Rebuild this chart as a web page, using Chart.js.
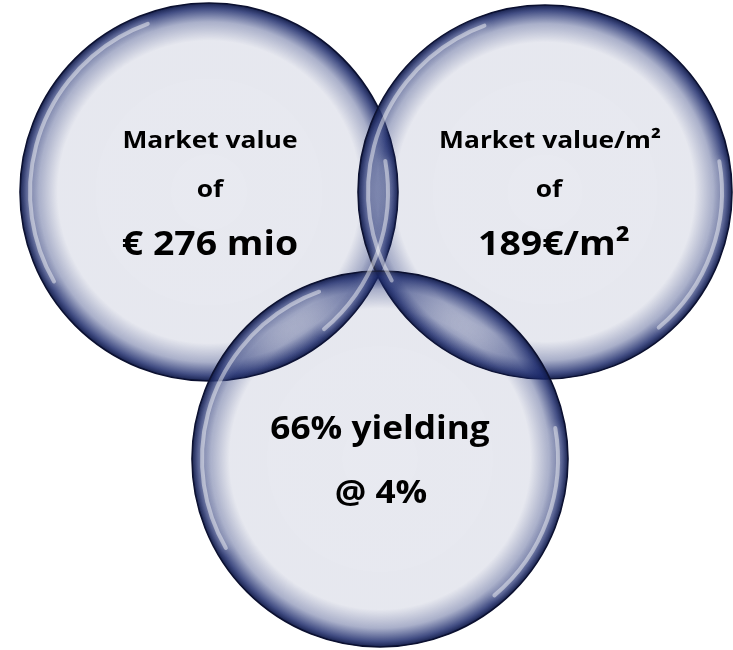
<!DOCTYPE html>
<html>
<head>
<meta charset="utf-8">
<script src="https://cdn.jsdelivr.net/npm/chart.js@4.4.0/dist/chart.umd.min.js"></script>
<style>
  html, body { margin: 0; padding: 0; background: #fff; }
  #wrap { width: 733px; height: 650px; }
</style>
</head>
<body>
<div id="wrap"><canvas id="venn"></canvas></div>
<script>
// circles (data units = px of the 733x650 frame)
const circleNames = ['Market value', 'Market value/m²', 'Yield'];
const centerX = [209, 545, 380];
const centerY = [192, 192, 459];
const radius = [189, 187, 188];

// text inside each circle
const textLines = [
    ['Market value', 'of', '€ 276 mio'],
    ['Market value/m²', 'of', '189€/m²'],
    ['66% yielding', '@ 4%']
];

const points = centerX.map((x, i) => ({ x: x, y: centerY[i], r: radius[i], name: circleNames[i] }));

function pxRadius(context) {
    const xs = context.chart.scales.x;
    const p = context.raw;
    if (!xs || !p) return 0;
    return Math.abs(xs.getPixelForValue(p.x + p.r) - xs.getPixelForValue(p.x));
}

function bubbleFill(context) {
    const chart = context.chart;
    const p = context.raw;
    const xs = chart.scales.x, ys = chart.scales.y;
    if (!p || !xs || !ys) return 'rgba(30,44,110,0.1)';
    const x = xs.getPixelForValue(p.x);
    const y = ys.getPixelForValue(p.y);
    const r = pxRadius(context);
    if (!isFinite(x) || !isFinite(y) || !r) return 'rgba(30,44,110,0.1)';
    const g = chart.ctx.createRadialGradient(x, y, 0, x, y, r);
    g.addColorStop(0, 'rgba(30,44,110,0.1)');
    g.addColorStop(0.8, 'rgba(30,44,110,0.11)');
    g.addColorStop(0.9, 'rgba(30,46,115,0.38)');
    g.addColorStop(0.97, 'rgba(24,38,104,0.82)');
    g.addColorStop(1, 'rgba(14,24,70,0.96)');
    return g;
}

const glossAndText = {
    id: 'glossAndText',
    afterDatasetsDraw(chart) {
        const ctx = chart.ctx;
        const meta = chart.getDatasetMeta(0);
        const xs = chart.scales.x;
        // soft white highlight arcs
        meta.data.forEach((el, i) => {
            const r = Math.abs(xs.getPixelForValue(radius[i]) - xs.getPixelForValue(0));
            ctx.save();
            ctx.strokeStyle = 'rgba(255,255,255,0.45)';
            ctx.lineWidth = 4;
            ctx.shadowColor = 'rgba(255,255,255,0.9)';
            ctx.shadowBlur = 8;
            ctx.lineCap = 'round';
            ctx.beginPath();
            ctx.arc(el.x, el.y, r - 10, Math.PI * 150 / 180, Math.PI * 250 / 180);
            ctx.stroke();
            ctx.beginPath();
            ctx.arc(el.x, el.y, r - 10, -Math.PI * 10 / 180, Math.PI * 50 / 180);
            ctx.stroke();
            ctx.restore();
        });
        // labels
        const layouts = [
            { dx: [1, 1, 1], dy: [-44, 5, 63], size: [24, 24, 34] },
            { dx: [5, 4, 9], dy: [-44, 5, 63], size: [24, 24, 34] },
            { dx: [0, 1], dy: [-20, 44], size: [32, 32] }
        ];
        const stretch = 1.1;
        ctx.save();
        ctx.fillStyle = '#000';
        ctx.textAlign = 'center';
        ctx.textBaseline = 'alphabetic';
        meta.data.forEach((el, i) => {
            const lay = layouts[i];
            textLines[i].forEach((t, j) => {
                ctx.save();
                ctx.font = 'bold ' + lay.size[j] + 'px "Open Sans", Lato, sans-serif';
                ctx.translate(el.x + lay.dx[j], el.y + lay.dy[j]);
                ctx.scale(stretch, 1);
                ctx.fillText(t, 0, 0);
                ctx.restore();
            });
        });
        ctx.restore();
    }
};

new Chart(document.getElementById('venn'), {
    type: 'bubble',
    data: {
        datasets: [{
            data: points,
            backgroundColor: bubbleFill,
            borderColor: '#0b1030',
            borderWidth: 1.6,
            radius: pxRadius,
            hoverRadius: 0,
            clip: false
        }]
    },
    options: {
        responsive: true,
        maintainAspectRatio: false,
        animation: false,
        events: [],
        layout: { padding: 0, autoPadding: false },
        scales: {
            x: { type: 'linear', min: 0, max: 733, display: false },
            y: { type: 'linear', min: 0, max: 650, reverse: true, display: false }
        },
        plugins: {
            legend: { display: false },
            tooltip: { enabled: false }
        }
    },
    plugins: [glossAndText]
});
</script>
</body>
</html>
